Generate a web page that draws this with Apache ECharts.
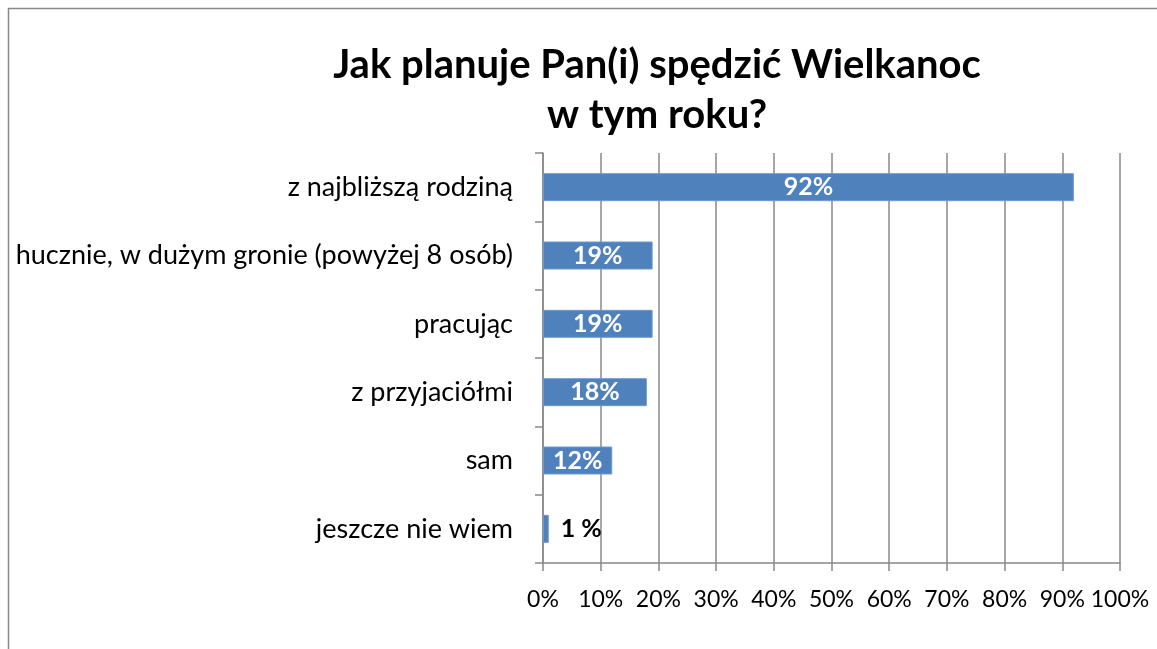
<!DOCTYPE html>
<html><head><meta charset="utf-8">
<script src="https://cdn.jsdelivr.net/npm/echarts@6/dist/echarts.min.js"></script>
<style>html,body{margin:0;padding:0;background:#fff}#c{width:1157px;height:649px}</style>
</head><body><div id="c"></div>
<script>
const categories = ["z najbliższą rodziną","hucznie, w dużym gronie (powyżej 8 osób)","pracując","z przyjaciółmi","sam","jeszcze nie wiem"];
const values = [92,19,19,18,12,1];
const valueLabels = ["92%","19%","19%","18%","12%","1 %"];
const titleText = "Jak planuje Pan(i) spędzić Wielkanoc\nw tym roku?";
const FONT = "Lato";
const chart = echarts.init(document.getElementById('c'));
chart.setOption({
  animation:false,
  backgroundColor:'#fff',
  title:{text:titleText,left:652,top:35,textAlign:'center',
    textStyle:{fontFamily:FONT,fontSize:40,fontWeight:'bold',color:'#000',lineHeight:50}},
  graphic:[{type:'rect',shape:{x:8.5,y:8.5,width:1300,height:800},style:{fill:null,stroke:'#888',lineWidth:1.5},silent:true}],
  grid:{left:543,right:37,top:153,bottom:86},
  xAxis:{type:'value',min:0,max:100,interval:10,
    axisLine:{show:true,lineStyle:{color:'#888',width:1.5}},
    axisTick:{show:true,length:8,lineStyle:{color:'#888',width:1.5}},
    splitLine:{show:true,lineStyle:{color:'#888',width:1.5}},
    axisLabel:{formatter:'{value}%',fontFamily:FONT,fontSize:23,color:'#000',margin:25}},
  yAxis:{type:'category',data:categories,inverse:true,
    axisLine:{show:true,lineStyle:{color:'#888',width:1.5}},
    axisTick:{show:true,length:8,interval:0,lineStyle:{color:'#888',width:1.5}},
    axisLabel:{fontFamily:FONT,fontSize:27,color:'#000',margin:30,interval:0}},
  series:[{type:'bar',barWidth:28,
    data:values.map((v,i)=>({value:v,
      label: i===values.length-1 ? {show:true,position:'right',distance:12,color:'#000',formatter:valueLabels[i]} : {show:true,position:'inside',color:'#fff',formatter:valueLabels[i]}})),
    itemStyle:{color:'#4F81BD',borderColor:'#6F98CC',borderWidth:1},
    label:{fontFamily:FONT,fontSize:25,fontWeight:'bold'}}]
});
</script></body></html>
